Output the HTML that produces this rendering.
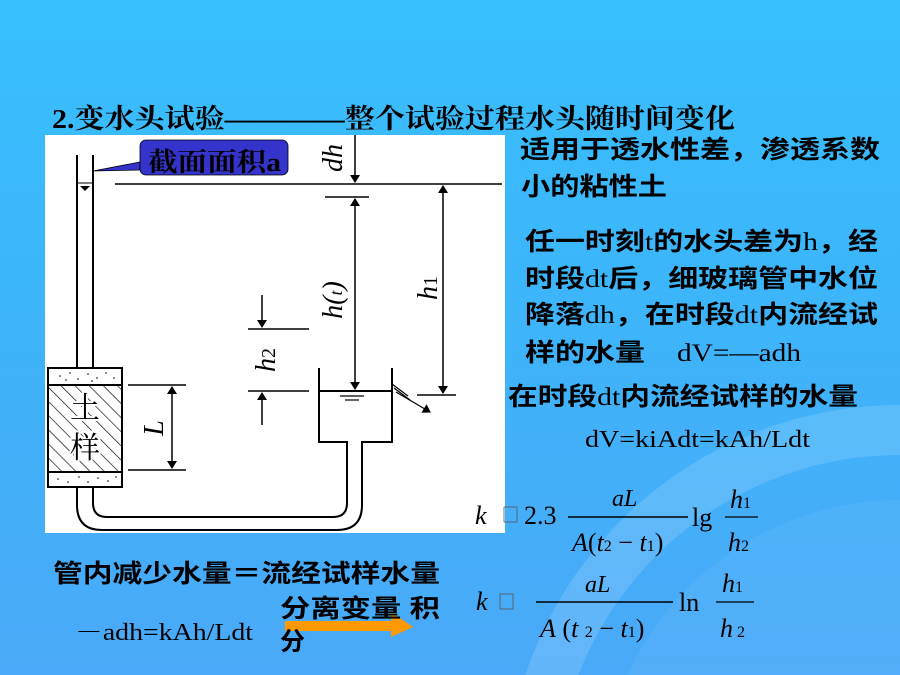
<!DOCTYPE html>
<html><head><meta charset="utf-8"><style>
html,body{margin:0;padding:0;width:900px;height:675px;overflow:hidden;}
body{background:linear-gradient(180deg,#38c0fd 0%,#3cb6fb 40%,#4aa9f8 100%);position:relative;}
svg{position:absolute;left:0;top:0;display:block;}
.cj{font-family:"Liberation Sans","Noto Sans CJK SC",sans-serif;font-weight:bold;fill:#000;}
.sr{font-family:"Liberation Serif","Noto Serif CJK SC",serif;fill:#000;}
.it{font-style:italic;}
</style></head><body>
<svg width="900" height="675" viewBox="0 0 900 675">
<defs>
<pattern id="hatch" width="10" height="10" patternUnits="userSpaceOnUse" patternTransform="rotate(-45)">
<line x1="0" y1="0" x2="0" y2="10" stroke="#000" stroke-width="1.3"/></pattern>
<marker id="ar" markerWidth="8" markerHeight="10" refX="7" refY="5" orient="auto" markerUnits="userSpaceOnUse">
<path d="M0,0 L8,5 L0,10 Z" fill="#000"/></marker>
</defs>
<circle cx="900" cy="800" r="370" fill="none" stroke="rgba(255,255,255,0.14)" stroke-width="50"/>
<circle cx="900" cy="800" r="300" fill="rgba(255,255,255,0.05)"/>

<text x="52" y="128" font-size="27" textLength="683" lengthAdjust="spacingAndGlyphs" style="font-family:'Liberation Serif','Noto Serif CJK SC',serif;font-weight:bold" fill="#000">2.变水头试验————整个试验过程水头随时间变化</text>

<rect x="45" y="135" width="460" height="398" fill="#fff"/>
<g stroke="#000" stroke-width="2" fill="none">
<line x1="77" y1="155" x2="77" y2="368"/>
<line x1="93" y1="155" x2="93" y2="368"/>
<line x1="77" y1="183" x2="93" y2="183" stroke-width="1"/>
<rect x="48" y="368" width="74" height="119" fill="#fff"/>
<rect x="49" y="385" width="72" height="87" fill="url(#hatch)" stroke="none"/>
<line x1="48" y1="385" x2="122" y2="385"/>
<line x1="48" y1="472" x2="122" y2="472"/>
<path d="M77,487 V505 Q77,530 102,530 H337 Q362,530 362,505 V442 H392 V368"/>
<path d="M93,487 V503 Q93,517 107,517 H333 Q347,517 347,503 V442 H319 V368"/>
<line x1="319" y1="391" x2="392" y2="391"/>
<line x1="115" y1="184" x2="502" y2="184" stroke-width="1.5"/>
<line x1="355" y1="135" x2="355" y2="182" stroke-width="1.5" marker-end="url(#ar)"/>
<line x1="325" y1="197" x2="369" y2="197" stroke-width="1.5"/>
<line x1="355" y1="215" x2="355" y2="199" stroke-width="1.5" marker-end="url(#ar)"/>
<line x1="355" y1="215" x2="355" y2="389" stroke-width="1.5" marker-end="url(#ar)"/>
<line x1="443" y1="290" x2="443" y2="186" stroke-width="1.5" marker-end="url(#ar)"/>
<line x1="443" y1="290" x2="443" y2="393" stroke-width="1.5" marker-end="url(#ar)"/>
<line x1="417" y1="395" x2="456" y2="395" stroke-width="1.5"/>
<line x1="248" y1="329" x2="309" y2="329" stroke-width="1.5"/>
<line x1="248" y1="391" x2="309" y2="391" stroke-width="1.5"/>
<line x1="262" y1="295" x2="262" y2="327" stroke-width="1.5" marker-end="url(#ar)"/>
<line x1="262" y1="425" x2="262" y2="393" stroke-width="1.5" marker-end="url(#ar)"/>
<line x1="128" y1="385" x2="186" y2="385" stroke-width="1.5"/>
<line x1="128" y1="470" x2="186" y2="470" stroke-width="1.5"/>
<line x1="172" y1="428" x2="172" y2="387" stroke-width="1.5" marker-end="url(#ar)"/>
<line x1="172" y1="428" x2="172" y2="468" stroke-width="1.5" marker-end="url(#ar)"/>
<line x1="392" y1="384" x2="408" y2="396" stroke-width="1.2"/>
<line x1="394" y1="388" x2="410" y2="400" stroke-width="1.2"/>
<line x1="396" y1="392" x2="430" y2="412" stroke-width="1.2" marker-end="url(#ar)"/>
<line x1="340" y1="396" x2="364" y2="396" stroke-width="1.2"/>
<line x1="345" y1="400" x2="359" y2="400" stroke-width="1.2"/>
</g>
<path d="M80,186 H90 L85,191 Z" fill="#000"/>
<g fill="#000">
<circle cx="60" cy="376" r="0.8"/><circle cx="70" cy="373" r="0.8"/><circle cx="78" cy="379" r="0.8"/><circle cx="88" cy="374" r="0.8"/><circle cx="97" cy="378" r="0.8"/><circle cx="106" cy="373" r="0.8"/><circle cx="114" cy="378" r="0.8"/><circle cx="66" cy="380" r="0.8"/><circle cx="92" cy="381" r="0.8"/>
<circle cx="58" cy="479" r="0.8"/><circle cx="68" cy="482" r="0.8"/><circle cx="79" cy="477" r="0.8"/><circle cx="88" cy="482" r="0.8"/><circle cx="98" cy="478" r="0.8"/><circle cx="108" cy="481" r="0.8"/><circle cx="116" cy="477" r="0.8"/>
</g>
<text x="70" y="418" font-size="30" style="font-family:'Noto Serif CJK SC',serif" fill="#000" stroke="#fff" stroke-width="4" paint-order="stroke">土</text>
<text x="70" y="458" font-size="30" style="font-family:'Noto Serif CJK SC',serif" fill="#000" stroke="#fff" stroke-width="4" paint-order="stroke">样</text>
<text class="sr it" font-size="28" transform="translate(163,428) rotate(-90)" text-anchor="middle">L</text>
<text class="sr it" font-size="28" transform="translate(275,360) rotate(-90)" text-anchor="middle">h<tspan font-size="20" font-style="normal">2</tspan></text>
<text class="sr it" font-size="28" transform="translate(342,300) rotate(-90)" text-anchor="middle">h(<tspan font-size="18">t</tspan>)</text>
<text class="sr it" font-size="28" transform="translate(437,288) rotate(-90)" text-anchor="middle">h<tspan font-size="20" font-style="normal">1</tspan></text>
<text class="sr it" font-size="28" transform="translate(342,158) rotate(-90)" text-anchor="middle">dh</text>

<path d="M140,162 L93,171 L140,170 Z" fill="#3333cc" stroke="#000" stroke-width="0.8"/>
<rect x="140" y="140" width="148" height="35" rx="6" fill="#3434cc" stroke="#000" stroke-width="0.8"/>
<text x="148" y="171" font-size="26" textLength="133" lengthAdjust="spacingAndGlyphs" style="font-family:'Liberation Serif','Noto Serif CJK SC',serif;font-weight:bold" fill="#000">截面面积a</text>

<g class="cj" font-size="25">
<text x="520" y="158" textLength="360" lengthAdjust="spacingAndGlyphs">适用于透水性差，渗透系数</text>
<text x="521" y="195" textLength="146" lengthAdjust="spacingAndGlyphs">小的粘性土</text>
<text x="525" y="250" textLength="353" lengthAdjust="spacingAndGlyphs">任一时刻<tspan class="sr" font-weight="normal">t</tspan>的水头差为<tspan class="sr" font-weight="normal">h</tspan>，经</text>
<text x="525" y="287" textLength="353" lengthAdjust="spacingAndGlyphs">时段<tspan class="sr" font-weight="normal">dt</tspan>后，细玻璃管中水位</text>
<text x="525" y="323" textLength="353" lengthAdjust="spacingAndGlyphs">降落<tspan class="sr" font-weight="normal">dh</tspan>，在时段<tspan class="sr" font-weight="normal">dt</tspan>内流经试</text>
<text x="525" y="361" textLength="120" lengthAdjust="spacingAndGlyphs">样的水量</text>
<text x="508" y="405" textLength="350" lengthAdjust="spacingAndGlyphs">在时段<tspan class="sr" font-weight="normal">dt</tspan>内流经试样的水量</text>
</g>
<text x="677" y="361" class="sr" font-size="25" textLength="124" lengthAdjust="spacingAndGlyphs">dV=—adh</text>
<text x="585" y="447" class="sr" font-size="24" textLength="225" lengthAdjust="spacingAndGlyphs">dV=kiAdt=kAh/Ldt</text>

<g class="sr" font-size="26">
<text x="475" y="524" class="it">k</text><rect x="504" y="507" width="13" height="15" fill="none" stroke="#555" stroke-width="0.8"/>
<text x="524" y="524">2.3</text>
<text x="612" y="506" class="it" font-size="24">aL</text>
<line x1="568" y1="517" x2="688" y2="517" stroke="#000" stroke-width="1.5"/>
<text x="572" y="551"><tspan class="it">A</tspan>(<tspan class="it">t</tspan><tspan font-size="16">2</tspan> − <tspan class="it">t</tspan><tspan font-size="16">1</tspan>)</text>
<text x="692" y="526">lg</text>
<text x="730" y="508" class="it">h<tspan font-size="16" font-style="normal">1</tspan></text>
<line x1="725" y1="517" x2="758" y2="517" stroke="#000" stroke-width="1.2"/>
<text x="728" y="551" class="it">h<tspan font-size="16" font-style="normal">2</tspan></text>

<text x="476" y="610" class="it">k</text><rect x="500" y="594" width="13" height="15" fill="none" stroke="#555" stroke-width="0.8"/>
<text x="585" y="592" class="it" font-size="24">aL</text>
<line x1="536" y1="602" x2="673" y2="602" stroke="#000" stroke-width="1.5"/>
<text x="540" y="637"><tspan class="it">A</tspan> (<tspan class="it">t</tspan> <tspan font-size="16">2</tspan>  − <tspan class="it">t</tspan><tspan font-size="16">1</tspan>)</text>
<text x="679" y="611">ln</text>
<text x="722" y="592" class="it">h<tspan font-size="16" font-style="normal">1</tspan></text>
<line x1="716" y1="602" x2="754" y2="602" stroke="#000" stroke-width="1.2"/>
<text x="720" y="637" class="it">h<tspan font-size="16" font-style="normal"> 2</tspan></text>
</g>

<text x="53" y="582" class="cj" font-size="25" textLength="387" lengthAdjust="spacingAndGlyphs">管内减少水量＝流经试样水量</text>
<text x="75" y="640" class="sr" font-size="24" textLength="178" lengthAdjust="spacingAndGlyphs">－adh=kAh/Ldt</text>
<path d="M285,621 H391 V612 L413,627 L391,637 V631 H285 Z" fill="#ff9900"/>
<text x="280" y="617" class="cj" font-size="25" textLength="160" lengthAdjust="spacingAndGlyphs">分离变量 积</text>
<text x="280" y="650" class="cj" font-size="25">分</text>
</svg>
</body></html>
